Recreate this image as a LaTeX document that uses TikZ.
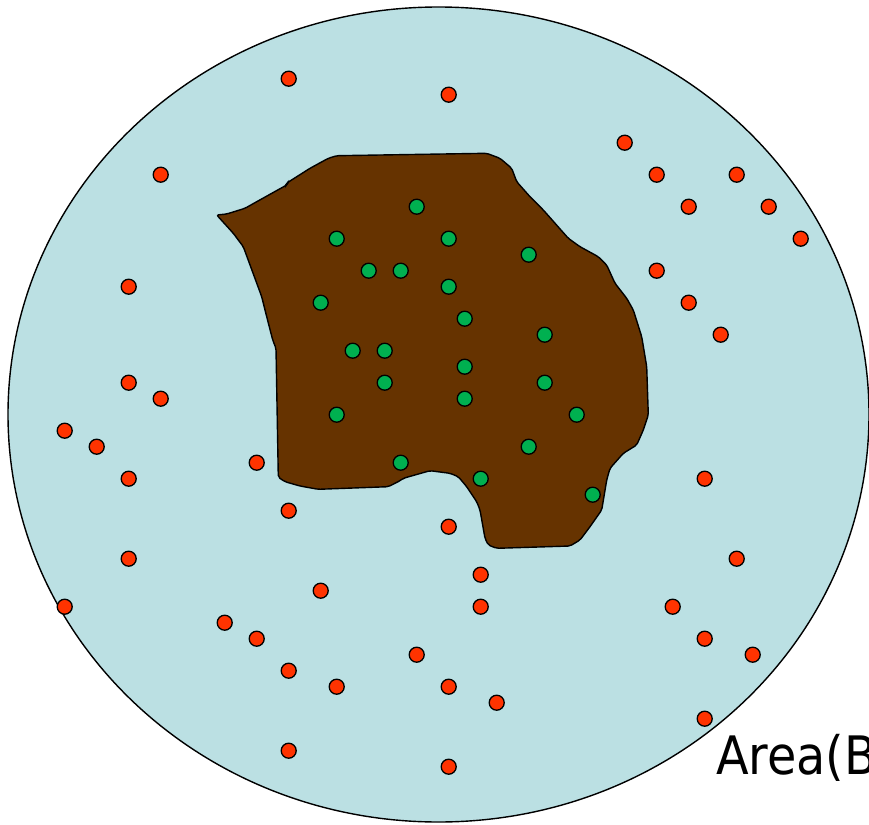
\documentclass[tikz,border=0pt]{standalone}
\usepackage{fontspec}
\newfontfamily\labelfont{DejaVu Sans Condensed}
\definecolor{sea}{HTML}{BBE0E3}
\definecolor{land}{HTML}{663300}
\definecolor{outred}{HTML}{FF3300}
\definecolor{ingreen}{HTML}{00B050}
\tikzset{
  dotbase/.style={circle, draw=black, line width=1.3pt, minimum size=15pt, inner sep=0pt},
  reddot/.style={dotbase, fill=outred},
  greendot/.style={dotbase, fill=ingreen},
}
\begin{document}
\begin{tikzpicture}[x=1pt,y=-1pt]
\useasboundingbox (0,0) rectangle (869,824);
% outer region
\draw[fill=sea, line width=1.4pt] (438.5,414.5) ellipse [x radius=430.5, y radius=407.5];
% blob
\draw[fill=land, line width=1.4pt, rounded corners=2pt]
 (216.7,215) -- (226.7,214) -- (245,208.3) -- (256.7,201.7) -- (286.7,185) -- (287.3,182.7)
 -- (310,168.3) -- (328.3,158.3) -- (336.7,155.7) -- (486.7,153.3) -- (500,158.3)
 -- (511.7,168.3) -- (516.7,181.7) -- (530,196.7) -- (543.3,210) -- (568.3,238.3)
 -- (580,246.7) -- (598.3,256.7) -- (606.7,265) -- (615,283.3) -- (626.7,298.3)
 -- (633.3,310) -- (641.7,336.7) -- (646.7,366.7) -- (648.3,415) -- (643.3,430)
 -- (636.7,445) -- (623.3,453.3) -- (610,468.3) -- (606.7,480) -- (601.7,510)
 -- (590,526.7) -- (580,540) -- (570,546) -- (496.7,548.3) -- (488.3,545)
 -- (485,538.3) -- (480,510) -- (476.7,501.7) -- (466.7,486.7) -- (458.3,476.7)
 -- (450,473.3) -- (430,470.7) -- (403.3,478.3) -- (400,480.7) -- (388.3,486.7)
 -- (318.3,489.3) -- (300,486) -- (285,481.7) -- (278.3,477.3) -- (276,348.3)
 -- (272.7,340) -- (266.7,316.7) -- (261.7,296.7) -- (243.3,246.7) -- (233.3,233.3)
 -- cycle;
% red points
\foreach \x/\y [count=\i] in {288/78, 448/94, 624/142, 160/174, 656/174, 736/174, 688/206,
  768/206, 800/238, 128/286, 656/270, 688/302, 720/334, 128/382, 160/398, 64/430, 96/446,
  128/478, 256/462, 288/510, 704/478, 448/526, 128/558, 736/558, 480/574, 320/590, 64/606,
  480/606, 672/606, 224/622, 256/638, 704/638, 752/654, 416/654, 288/670, 336/686, 448/686,
  496/702, 704/718, 288/750, 448/766}
  \node[reddot] (r\i) at (\x+0.7,\y+0.7) {};
% green points
\foreach \x/\y [count=\i] in {416/206, 336/238, 448/238, 528/254, 368/270, 400/270, 448/286,
  320/302, 464/318, 544/334, 352/350, 384/350, 464/366, 384/382, 544/382, 464/398, 336/414,
  576/414, 528/446, 400/462, 480/478, 592/494}
  \node[greendot] (g\i) at (\x+0.7,\y+0.7) {};
% label
\node[anchor=base west, inner sep=0pt, font=\labelfont\fontsize{53}{60}\selectfont] (lbl) at (716,774) {Area(B};
\end{tikzpicture}
\end{document}
